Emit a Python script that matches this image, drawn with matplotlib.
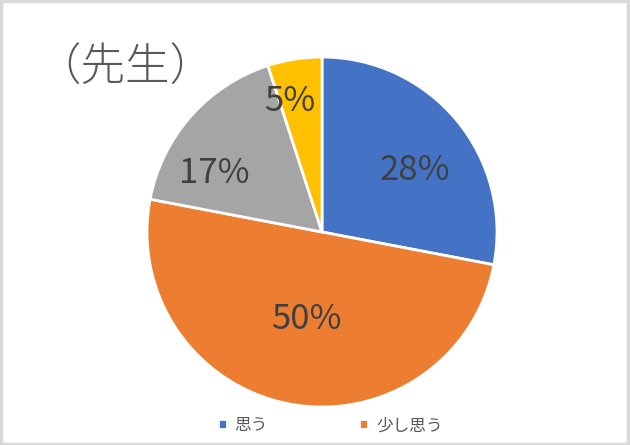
import matplotlib
matplotlib.use("Agg")
import matplotlib.pyplot as plt
from matplotlib.patches import Rectangle
import numpy as np

plt.rcParams['font.family'] = ['Noto Sans CJK JP', 'DejaVu Sans']

title = "（先生）"
categories = ["思う", "少し思う", "あまり思わない", "思わない"]
values = [28, 50, 17, 5]
colors = ["#4472C4", "#ED7D31", "#A5A5A5", "#FFC000"]
legend_shown = 2
label_dist = [0.64, 0.51, 0.70, 0.77]
label_angle_shift = [-6, 1, 13, 5]

fig = plt.figure(figsize=(6.3, 4.45), dpi=100)
fig.patch.set_facecolor("white")
fig.patches.append(Rectangle((0.002, 0.003), 0.995, 0.994, transform=fig.transFigure,
                             fill=False, edgecolor="#D9D9D9", linewidth=2.5))

ax = fig.add_axes([0.2333, 0.0854, 0.5556, 0.7865])
wedges, _ = ax.pie(values, colors=colors, startangle=90, counterclock=False,
                   wedgeprops=dict(edgecolor="white", linewidth=2))
total = sum(values)
for i, w in enumerate(wedges):
    mid = (w.theta1 + w.theta2) / 2 + label_angle_shift[i]
    r = label_dist[i]
    ax.text(r * np.cos(np.radians(mid)), r * np.sin(np.radians(mid)),
            f"{values[i] / total * 100:.0f}%", ha="center", va="center",
            fontsize=25, color="#404040")
ax.set_xlim(-1, 1)
ax.set_ylim(-1, 1)
ax.set_aspect("equal")
ax.axis("off")

fig.text(0.058, 0.846, title, fontsize=32, color="#595959", ha="left", va="center",
         fontweight="light")

fig.legend(wedges[:legend_shown], categories[:legend_shown], loc="center",
           bbox_to_anchor=(0.524, 0.043), ncol=legend_shown, frameon=False,
           fontsize=12, labelcolor="#595959", handlelength=0.55, handleheight=0.55,
           handletextpad=0.45, columnspacing=5.5)

fig.savefig("out.png", dpi=100, facecolor="white")
